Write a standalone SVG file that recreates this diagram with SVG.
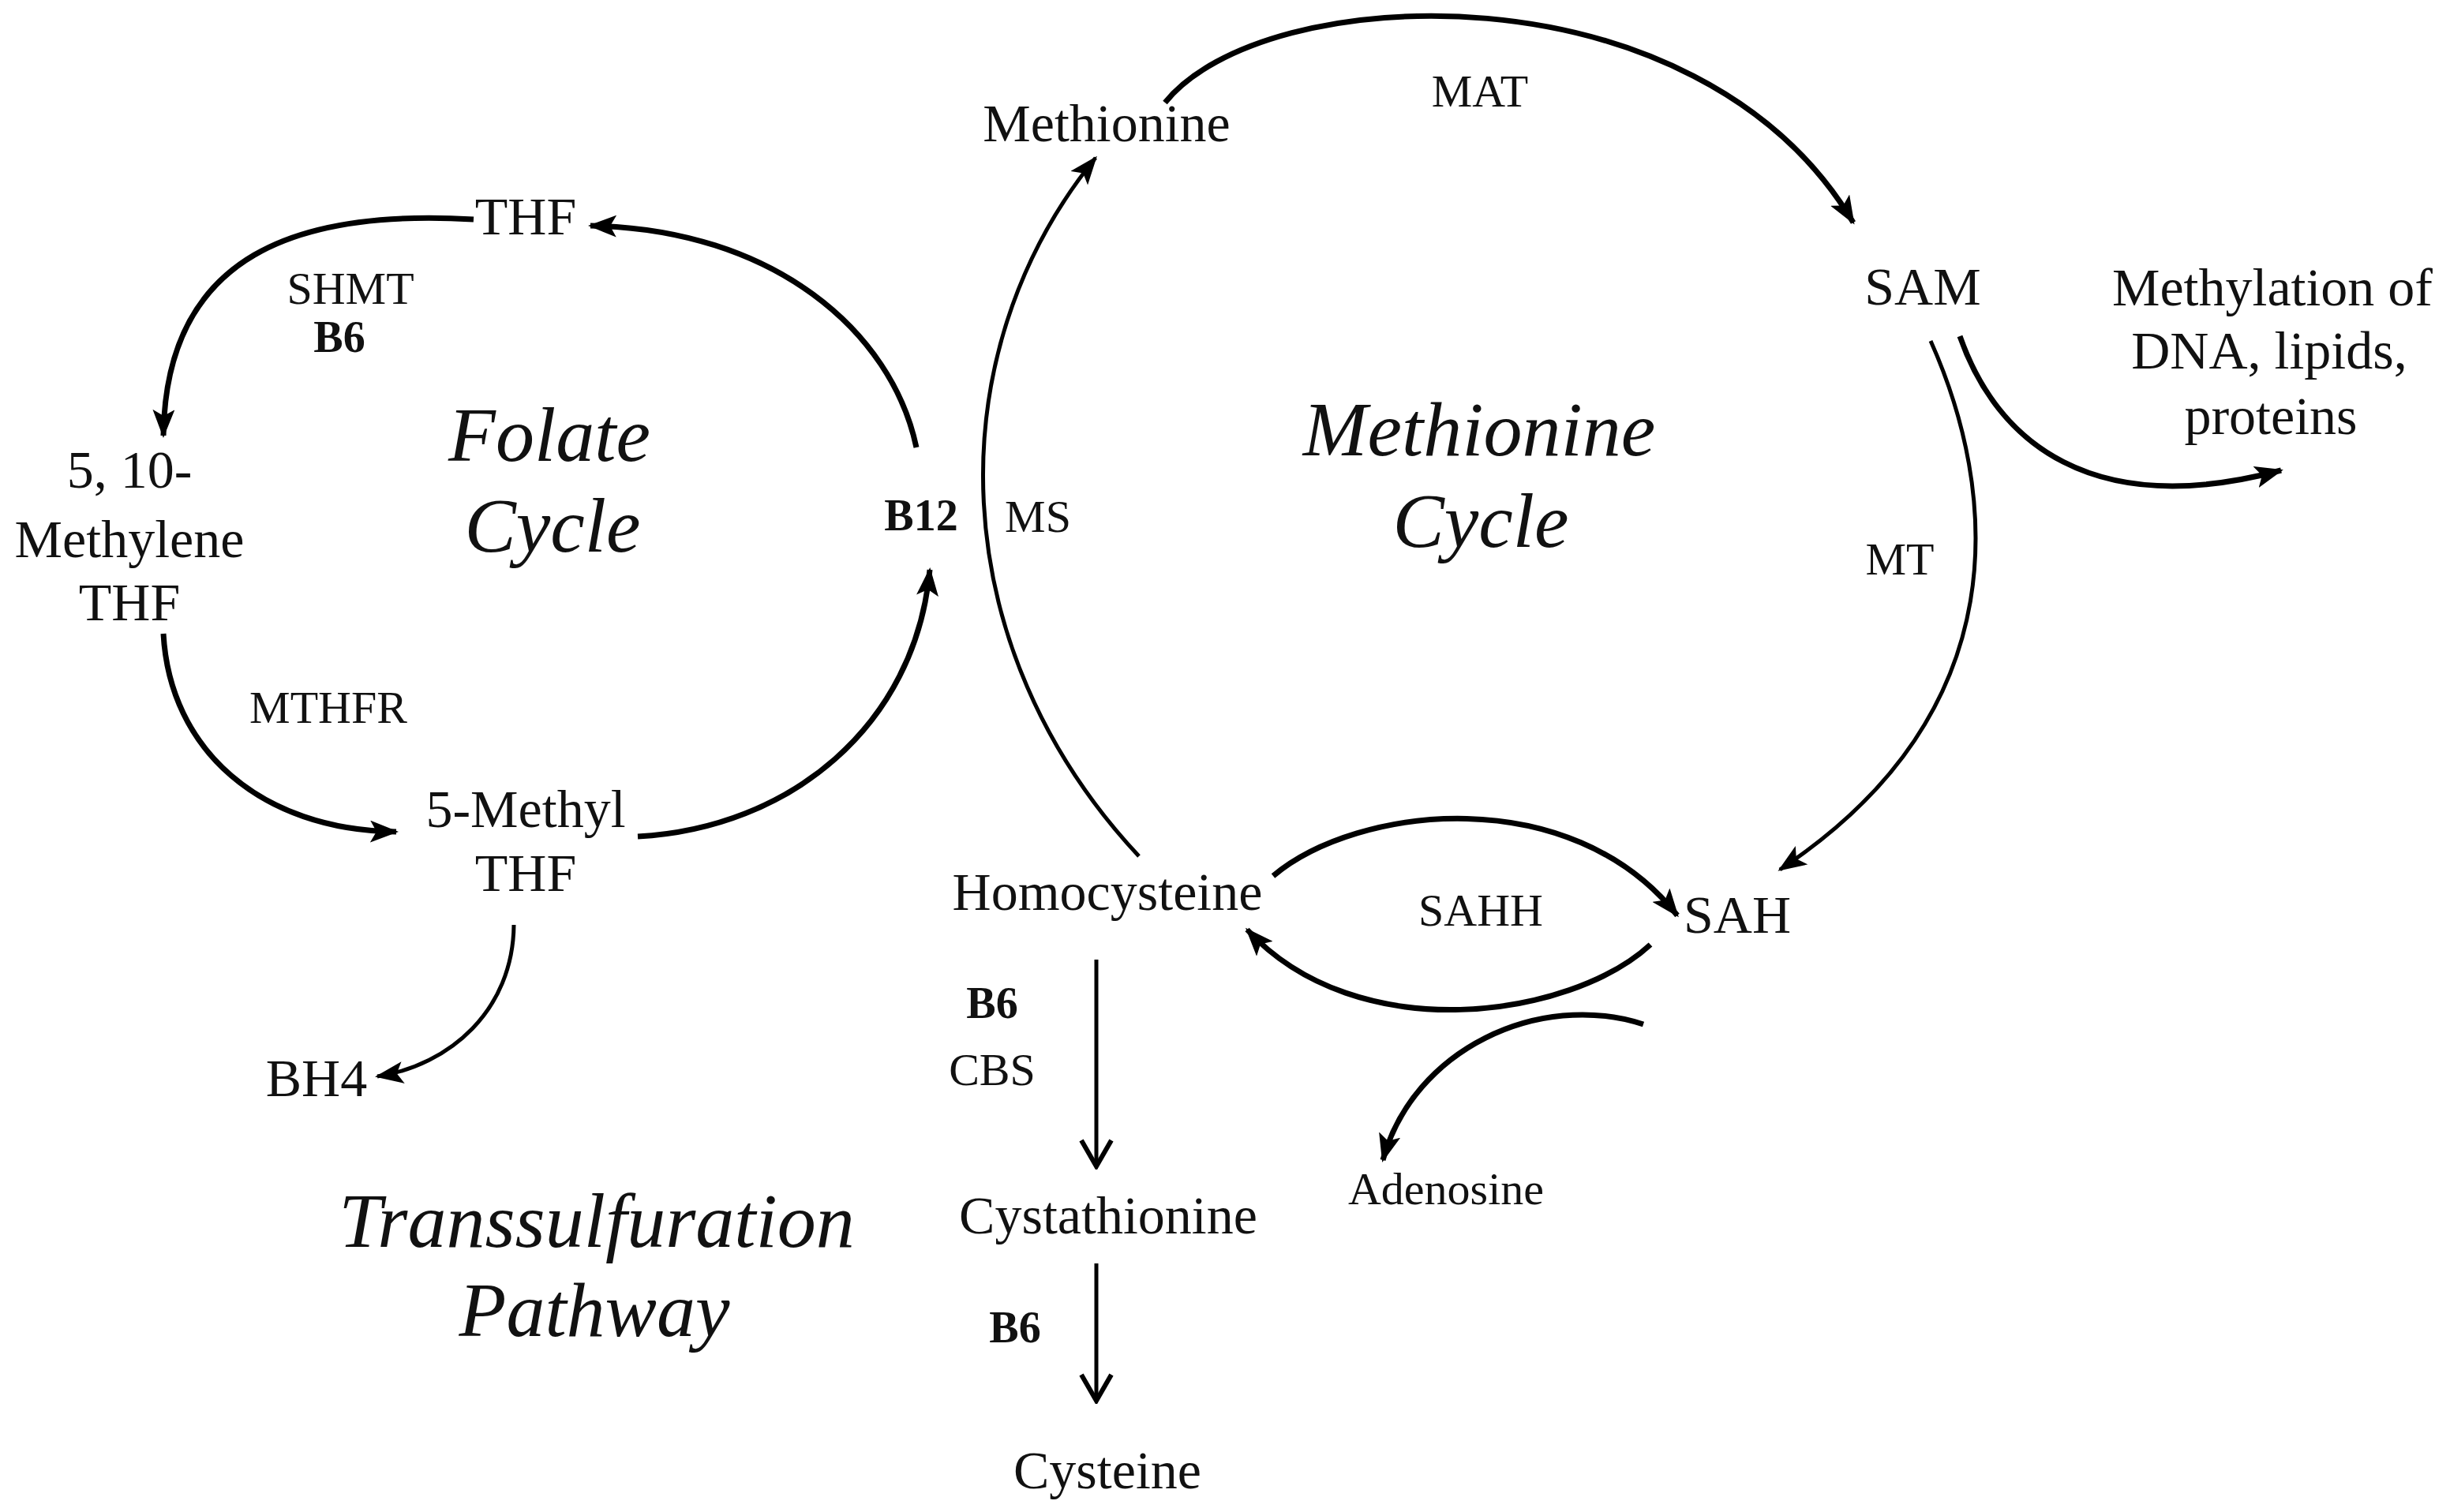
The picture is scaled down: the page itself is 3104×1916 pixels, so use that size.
<svg xmlns="http://www.w3.org/2000/svg" width="3104" height="1916" viewBox="0 0 3104 1916">
<style>
  text { font-family: "Liberation Serif", "Times New Roman", serif; fill: #111; text-anchor: middle; }
  .main { font-size: 68px; }
  .small { font-size: 58px; }
  .bold { font-size: 56px; font-weight: bold; }
  .title { font-size: 98px; font-style: italic; }
  .thick { fill: none; stroke: #000; stroke-width: 7; }
  .thin { fill: none; stroke: #000; stroke-width: 5; }
</style>
<defs>
  <marker id="fa" viewBox="0 0 36 28" refX="33" refY="14" markerWidth="36" markerHeight="28" markerUnits="userSpaceOnUse" orient="auto">
    <path d="M0,0 L36,14 L0,28 L8,14 z" fill="#000"/>
  </marker>
  <marker id="va" viewBox="0 0 40 44" refX="36" refY="22" markerWidth="40" markerHeight="44" markerUnits="userSpaceOnUse" orient="auto">
    <path d="M3,3 L36,22 L3,41" fill="none" stroke="#000" stroke-width="6" stroke-linejoin="miter"/>
  </marker>
</defs>
<rect width="3104" height="1916" fill="#fff"/>

<g id="connectors">
  <path class="thick" d="M600 278 C380 265 210 320 207 552" marker-end="url(#fa)"/>
  <path class="thick" d="M1161 567 C1130 420 980 290 748 286" marker-end="url(#fa)"/>
  <path class="thick" d="M207 803 C215 950 330 1052 502 1054" marker-end="url(#fa)"/>
  <path class="thick" d="M808 1060 C1000 1050 1160 920 1178 722" marker-end="url(#fa)"/>
  <path class="thin" d="M651 1172 C650 1280 570 1350 478 1364" marker-end="url(#fa)"/>
  <path class="thin" d="M1443 1085 C1195 820 1185 450 1388 200" marker-end="url(#fa)"/>
  <path class="thick" d="M1476 130 C1600 -25 2150 -50 2348 282" marker-end="url(#fa)"/>
  <path class="thin" d="M2446 432 C2530 620 2560 900 2255 1102" marker-end="url(#fa)"/>
  <path class="thick" d="M2483 426 C2530 560 2650 660 2890 596" marker-end="url(#fa)"/>
  <path class="thick" d="M1613 1110 C1720 1020 1990 990 2125 1160" marker-end="url(#fa)"/>
  <path class="thick" d="M2091 1197 C1990 1290 1720 1330 1580 1178" marker-end="url(#fa)"/>
  <path class="thick" d="M2082 1298 C1950 1255 1790 1330 1752 1470" marker-end="url(#fa)"/>
  <path class="thin" d="M1389 1216 L1389 1478" marker-end="url(#va)"/>
  <path class="thin" d="M1389 1601 L1389 1775" marker-end="url(#va)"/>
</g>

<g id="label-folate-cycle"><text class="title" x="696" y="584">Folate</text><text class="title" x="700" y="699">Cycle</text></g>
<g id="label-methionine-cycle"><text class="title" x="1874" y="577">Methionine</text><text class="title" x="1876" y="693">Cycle</text></g>
<g id="label-transsulfuration"><text class="title" x="756" y="1580">Transsulfuration</text><text class="title" x="753" y="1693">Pathway</text></g>

<g id="node-thf"><text class="main" x="666" y="297">THF</text></g>
<g id="label-shmt"><text class="small" x="444" y="385">SHMT</text><text class="bold" x="430" y="446">B6</text></g>
<g id="node-methylene-thf"><text class="main" x="164" y="618">5, 10-</text><text class="main" x="164" y="706">Methylene</text><text class="main" x="164" y="786">THF</text></g>
<g id="label-mthfr"><text class="small" x="416" y="916">MTHFR</text></g>
<g id="node-methyl-thf"><text class="main" x="666" y="1048">5-Methyl</text><text class="main" x="666" y="1129">THF</text></g>
<g id="node-bh4"><text class="main" x="401" y="1389">BH4</text></g>
<g id="label-b12"><text class="bold" x="1167" y="672">B12</text></g>
<g id="label-ms"><text class="small" x="1315" y="674">MS</text></g>
<g id="node-methionine"><text class="main" x="1402" y="179">Methionine</text></g>
<g id="label-mat"><text class="small" x="1875" y="135">MAT</text></g>
<g id="node-sam"><text class="main" x="2436" y="386">SAM</text></g>
<g id="node-methylation"><text class="main" x="2879" y="387">Methylation of</text><text class="main" x="2875" y="467">DNA, lipids,</text><text class="main" x="2877" y="550">proteins</text></g>
<g id="label-mt"><text class="small" x="2407" y="728">MT</text></g>
<g id="node-homocysteine"><text class="main" x="1403" y="1153">Homocysteine</text></g>
<g id="label-sahh"><text class="small" x="1876" y="1173">SAHH</text></g>
<g id="node-sah"><text class="main" x="2201" y="1182">SAH</text></g>
<g id="node-adenosine"><text class="small" x="1832" y="1526">Adenosine</text></g>
<g id="label-cbs"><text class="bold" x="1257" y="1290">B6</text><text class="small" x="1257" y="1375">CBS</text></g>
<g id="node-cystathionine"><text class="main" x="1404" y="1563">Cystathionine</text></g>
<g id="label-b6-2"><text class="bold" x="1286" y="1701">B6</text></g>
<g id="node-cysteine"><text class="main" x="1403" y="1886">Cysteine</text></g>
</svg>
